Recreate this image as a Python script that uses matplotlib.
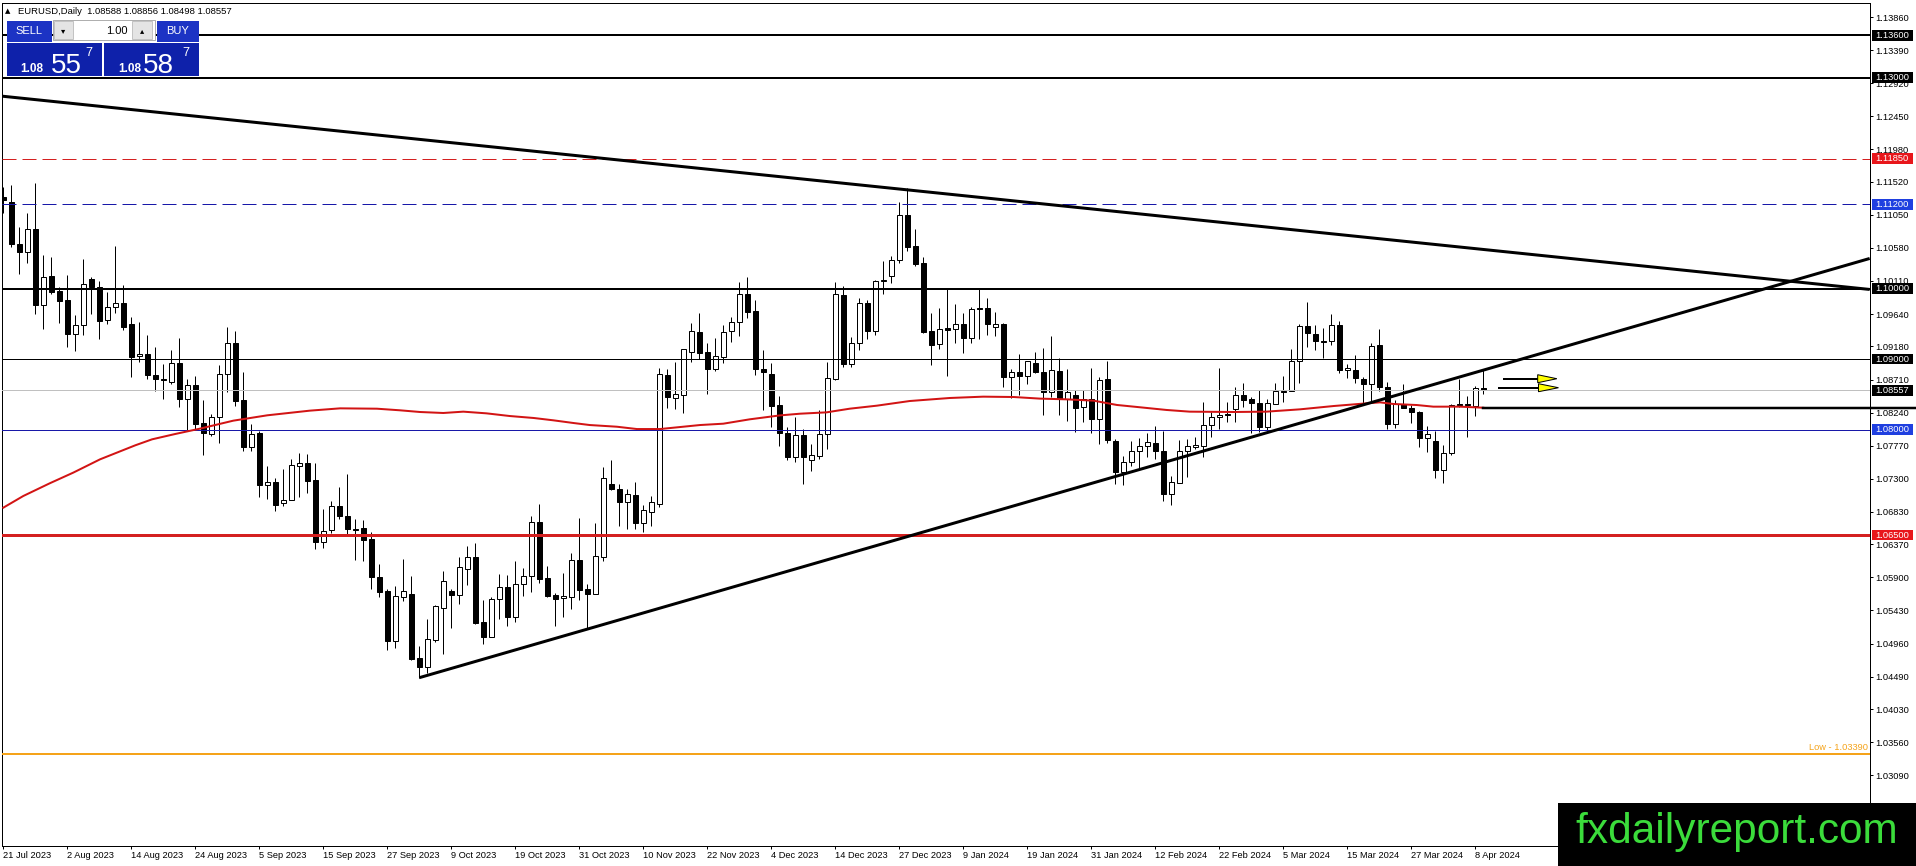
import matplotlib
matplotlib.use("Agg")
import matplotlib.pyplot as plt
import matplotlib.transforms as mtransforms
from matplotlib.patches import Rectangle, Polygon
import numpy as np

# ---------------- DATA ----------------
opens = [1.11299, 1.11237, 1.10636, 1.10517, 1.10844, 1.09765, 1.10177, 1.09968, 1.09840, 1.09362,
         1.09480, 1.10134, 1.10020, 1.09552, 1.09736, 1.09793, 1.09495, 1.09040, 1.09073, 1.08780,
         1.08713, 1.08671, 1.08945, 1.08439, 1.08628, 1.08088, 1.07932, 1.08174, 1.08784, 1.09225,
         1.08420, 1.07747, 1.07946, 1.07208, 1.07250, 1.06952, 1.07004, 1.07478, 1.07520, 1.07283,
         1.06407, 1.06568, 1.06914, 1.06772, 1.06592, 1.06601, 1.06445, 1.05910, 1.05711, 1.05001,
         1.05626, 1.05664, 1.04755, 1.04631, 1.05010, 1.05470, 1.05711, 1.05645, 1.06024, 1.06189,
         1.05266, 1.05058, 1.05588, 1.05763, 1.05332, 1.05801, 1.05919, 1.06682, 1.05891, 1.05649,
         1.05602, 1.05616, 1.06142, 1.05735, 1.05659, 1.06194, 1.07226, 1.07150, 1.06975, 1.07070,
         1.06667, 1.06833, 1.06947, 1.08774, 1.08443, 1.08495, 1.09096, 1.09385, 1.09101, 1.08855,
         1.09035, 1.09395, 1.09523, 1.09925, 1.09684, 1.08860, 1.08789, 1.08344, 1.07951, 1.07614,
         1.07922, 1.07562, 1.07629, 1.07932, 1.08722, 1.09911, 1.08926, 1.09224, 1.09797, 1.09404,
         1.10105, 1.10181, 1.10410, 1.11047, 1.10607, 1.10362, 1.09395, 1.09211, 1.09443, 1.09424,
         1.09495, 1.09296, 1.09713, 1.09727, 1.09452, 1.09499, 1.08742, 1.08818, 1.08756, 1.08950,
         1.08818, 1.08529, 1.08832, 1.08439, 1.08486, 1.08316, 1.08439, 1.08155, 1.08713, 1.07833,
         1.07397, 1.07534, 1.07700, 1.07762, 1.07804, 1.07700, 1.07085, 1.07246, 1.07700, 1.07747,
         1.07771, 1.08059, 1.08173, 1.08216, 1.08287, 1.08486, 1.08438, 1.08377, 1.08031, 1.08358,
         1.08542, 1.08542, 1.08969, 1.09466, 1.09357, 1.09257, 1.09253, 1.09485, 1.08845, 1.08850,
         1.08722, 1.08642, 1.09196, 1.08599, 1.08074, 1.08358, 1.08306, 1.08254, 1.07875, 1.07832,
         1.07420, 1.07671, 1.08353, 1.08353, 1.08339, 1.08588]
highs = [1.11450, 1.11474, 1.10873, 1.11071, 1.11498, 1.10475, 1.10456, 1.10020, 1.10191, 1.09623,
         1.10418, 1.10172, 1.10106, 1.09949, 1.10603, 1.10049, 1.09594, 1.09523, 1.09343, 1.09173,
         1.08926, 1.09125, 1.09296, 1.08713, 1.08761, 1.08420, 1.08216, 1.08917, 1.09452, 1.09395,
         1.08818, 1.08074, 1.07984, 1.07482, 1.07307, 1.07440, 1.07587, 1.07672, 1.07653, 1.07520,
         1.06871, 1.06985, 1.07188, 1.07373, 1.06724, 1.06715, 1.06540, 1.06090, 1.05735, 1.05777,
         1.06166, 1.05924, 1.04925, 1.05309, 1.05512, 1.05990, 1.05739, 1.06189, 1.06346, 1.06388,
         1.05574, 1.05621, 1.05943, 1.05934, 1.06132, 1.06033, 1.06772, 1.06942, 1.06057, 1.05683,
         1.05957, 1.06246, 1.06743, 1.05801, 1.06672, 1.07468, 1.07567, 1.07221, 1.07160, 1.07259,
         1.06928, 1.07056, 1.08879, 1.08860, 1.08954, 1.09148, 1.09518, 1.09660, 1.09229, 1.09300,
         1.09485, 1.09603, 1.10091, 1.10171, 1.09835, 1.09130, 1.08940, 1.08476, 1.08036, 1.08173,
         1.08003, 1.07794, 1.08273, 1.08954, 1.10091, 1.10039, 1.09314, 1.09868, 1.09845, 1.10124,
         1.10400, 1.10460, 1.11230, 1.11427, 1.10849, 1.10447, 1.09651, 1.09727, 1.09992, 1.09779,
         1.09660, 1.09746, 1.09992, 1.09873, 1.09665, 1.09518, 1.08860, 1.09078, 1.08979, 1.09102,
         1.09159, 1.09329, 1.09012, 1.08860, 1.08567, 1.08567, 1.08870, 1.08751, 1.08969, 1.07861,
         1.07624, 1.07833, 1.07880, 1.07946, 1.08046, 1.07979, 1.07340, 1.07847, 1.07871, 1.07894,
         1.08396, 1.08244, 1.08874, 1.08386, 1.08609, 1.08656, 1.08467, 1.08557, 1.08429, 1.08656,
         1.08760, 1.09139, 1.09499, 1.09811, 1.09485, 1.09437, 1.09641, 1.09542, 1.08926, 1.09059,
         1.08751, 1.09229, 1.09423, 1.08670, 1.08424, 1.08642, 1.08353, 1.08263, 1.08045, 1.07979,
         1.07775, 1.08363, 1.08718, 1.08471, 1.08618, 1.08856]
lows = [1.11081, 1.10589, 1.10205, 1.10371, 1.09641, 1.09433, 1.09926, 1.09518, 1.09177, 1.09121,
        1.09348, 1.09641, 1.09291, 1.09504, 1.09660, 1.09414, 1.08742, 1.08964, 1.08713, 1.08552,
        1.08439, 1.08652, 1.08325, 1.07994, 1.07994, 1.07643, 1.07913, 1.07814, 1.08538, 1.08339,
        1.07700, 1.07700, 1.07047, 1.07018, 1.06848, 1.06914, 1.07004, 1.07047, 1.07103, 1.06308,
        1.06322, 1.06535, 1.06734, 1.06502, 1.06147, 1.06137, 1.05739, 1.05616, 1.04868, 1.04897,
        1.05569, 1.04726, 1.04475, 1.04537, 1.04977, 1.04816, 1.05185, 1.05526, 1.05792, 1.05242,
        1.04949, 1.05058, 1.05313, 1.05214, 1.05271, 1.05635, 1.05697, 1.05820, 1.05626, 1.05209,
        1.05342, 1.05455, 1.05574, 1.05176, 1.05659, 1.06137, 1.07141, 1.06634, 1.06582, 1.06582,
        1.06549, 1.06634, 1.06904, 1.08310, 1.08296, 1.08239, 1.08964, 1.08997, 1.08509, 1.08827,
        1.08940, 1.09248, 1.09333, 1.09589, 1.08779, 1.08282, 1.08031, 1.07771, 1.07567, 1.07543,
        1.07231, 1.07406, 1.07581, 1.07728, 1.08703, 1.08883, 1.08893, 1.09130, 1.09286, 1.09343,
        1.09930, 1.10086, 1.10370, 1.10540, 1.10323, 1.09367, 1.08922, 1.09149, 1.08766, 1.09225,
        1.09087, 1.09225, 1.09286, 1.09348, 1.09334, 1.08609, 1.08448, 1.08486, 1.08652, 1.08799,
        1.08212, 1.08462, 1.08212, 1.08126, 1.07961, 1.08112, 1.07946, 1.07790, 1.07804, 1.07222,
        1.07212, 1.07482, 1.07444, 1.07610, 1.07582, 1.06990, 1.06933, 1.07236, 1.07321, 1.07724,
        1.07610, 1.07889, 1.08012, 1.08112, 1.08112, 1.08325, 1.07955, 1.07960, 1.07988, 1.08358,
        1.08391, 1.08542, 1.08666, 1.09177, 1.09130, 1.09021, 1.09201, 1.08798, 1.08727, 1.08656,
        1.08372, 1.08381, 1.08552, 1.08003, 1.08017, 1.08301, 1.08097, 1.07747, 1.07676, 1.07307,
        1.07236, 1.07638, 1.08315, 1.07898, 1.08192, 1.08498]
closes = [1.11261, 1.10636, 1.10517, 1.10844, 1.09765, 1.10162, 1.09959, 1.09831, 1.09362, 1.09480,
          1.10063, 1.10020, 1.09547, 1.09736, 1.09793, 1.09452, 1.09035, 1.09073, 1.08780, 1.08713,
          1.08699, 1.08945, 1.08439, 1.08628, 1.08079, 1.07946, 1.08174, 1.08784, 1.09225, 1.08410,
          1.07747, 1.07932, 1.07208, 1.07250, 1.06933, 1.06995, 1.07492, 1.07520, 1.07274, 1.06407,
          1.06559, 1.06914, 1.06776, 1.06592, 1.06578, 1.06435, 1.05910, 1.05697, 1.05001, 1.05635,
          1.05702, 1.04740, 1.04631, 1.05020, 1.05493, 1.05848, 1.05654, 1.06047, 1.06189, 1.05256,
          1.05058, 1.05593, 1.05763, 1.05342, 1.05801, 1.05919, 1.06682, 1.05881, 1.05640, 1.05597,
          1.05635, 1.06142, 1.05725, 1.05659, 1.06203, 1.07307, 1.07150, 1.06975, 1.07079, 1.06667,
          1.06857, 1.06966, 1.08784, 1.08457, 1.08500, 1.09139, 1.09399, 1.09092, 1.08864, 1.09040,
          1.09381, 1.09527, 1.09925, 1.09674, 1.08864, 1.08812, 1.08339, 1.07946, 1.07614, 1.07922,
          1.07614, 1.07633, 1.07936, 1.08732, 1.09920, 1.08935, 1.09224, 1.09792, 1.09404, 1.10105,
          1.10120, 1.10410, 1.11047, 1.10597, 1.10352, 1.09386, 1.09206, 1.09424, 1.09409, 1.09495,
          1.09296, 1.09713, 1.09708, 1.09495, 1.09495, 1.08742, 1.08813, 1.08756, 1.08969, 1.08813,
          1.08529, 1.08841, 1.08439, 1.08529, 1.08311, 1.08439, 1.08155, 1.08704, 1.07856, 1.07397,
          1.07534, 1.07700, 1.07762, 1.07828, 1.07700, 1.07085, 1.07260, 1.07700, 1.07762, 1.07781,
          1.08060, 1.08178, 1.08202, 1.08206, 1.08486, 1.08424, 1.08372, 1.08031, 1.08381, 1.08542,
          1.08533, 1.08969, 1.09466, 1.09366, 1.09253, 1.09250, 1.09480, 1.08845, 1.08869, 1.08727,
          1.08642, 1.09191, 1.08599, 1.08074, 1.08358, 1.08301, 1.08254, 1.07875, 1.07932, 1.07420,
          1.07671, 1.08348, 1.08348, 1.08348, 1.08590, 1.08557]

# moving average (bar index, price)
ma_idx = [0, 2.5, 5.8, 8.75, 12.1, 16.5, 18.6, 21.5, 24.6, 28.75, 33, 38.3, 42.1, 46.7, 49.6, 52.1,
          55, 57.5, 60.4, 63.3, 66.3, 68.75, 71.25, 73.3, 76.7, 79.2, 82.1, 87.1, 90, 93.3, 97.1,
          99.6, 102.9, 105.8, 109.2, 113.3, 118.3, 122.5, 126.3, 129.6, 132.9, 136.3, 139.2, 142.1,
          145.4, 148.3, 153.8, 157.9, 162.1, 166.3, 170.4, 172.1, 173.75, 176.7, 178.75, 182.1, 185]
ma_val = [1.06890, 1.07056, 1.07236, 1.07388, 1.07577, 1.07776, 1.07861, 1.07937, 1.08013, 1.08126,
          1.08202, 1.08268, 1.08301, 1.08296, 1.08273, 1.08249, 1.08235, 1.08254, 1.08230, 1.08192,
          1.08164, 1.08131, 1.08093, 1.08064, 1.08040, 1.08007, 1.08007, 1.08064, 1.08083, 1.08145,
          1.08201, 1.08225, 1.08244, 1.08296, 1.08339, 1.08405, 1.08448, 1.08467, 1.08462, 1.08439,
          1.08429, 1.08410, 1.08349, 1.08316, 1.08278, 1.08254, 1.08249, 1.08254, 1.08287, 1.08334,
          1.08372, 1.08386, 1.08363, 1.08348, 1.08325, 1.08325, 1.08310]

date_labels = ['21 Jul 2023', '2 Aug 2023', '14 Aug 2023', '24 Aug 2023', '5 Sep 2023', '15 Sep 2023',
               '27 Sep 2023', '9 Oct 2023', '19 Oct 2023', '31 Oct 2023', '10 Nov 2023', '22 Nov 2023',
               '4 Dec 2023', '14 Dec 2023', '27 Dec 2023', '9 Jan 2024', '19 Jan 2024', '31 Jan 2024',
               '12 Feb 2024', '22 Feb 2024', '5 Mar 2024', '15 Mar 2024', '27 Mar 2024', '8 Apr 2024']
date_label_step = 8

price_ticks = [1.13860, 1.13390, 1.12920, 1.12450, 1.11980, 1.11520, 1.11050, 1.10580, 1.10110,
               1.09640, 1.09180, 1.08710, 1.08240, 1.07770, 1.07300, 1.06830, 1.06370, 1.05900,
               1.05430, 1.04960, 1.04490, 1.04030, 1.03560, 1.03090, 1.02620]

# horizontal levels: (price, colour, width px, style, label box colour)
levels = [
    (1.13600, 'black', 2, 'solid', 'black'),
    (1.13000, 'black', 2, 'solid', 'black'),
    (1.11850, '#d42020', 1, 'dashed', '#e8161b'),
    (1.11200, '#1818a8', 1, 'dashed', '#1f3fe0'),
    (1.10000, 'black', 2, 'solid', 'black'),
    (1.09000, 'black', 1, 'solid', 'black'),
    (1.08557, '#c0c0c0', 1, 'solid', 'black'),
    (1.08000, '#1818a8', 1, 'solid', '#1f3fe0'),
    (1.06500, '#d42020', 3, 'solid', '#e8161b'),
]
low_level = 1.03390

# trend lines (bar index, price)
down_trend = [(-0.2, 1.12736), (233.3, 1.09990)]
up_trend = [(52, 1.04475), (233.3, 1.10430)]
support_level = 1.08310
support_start = 185
arrows = [(187.6, 192.1, 194.2, 1.08722), (187.0, 192.2, 194.4, 1.08594)]

title_text = 'EURUSD,Daily  1.08588 1.08856 1.08498 1.08557'

# ---------------- FIGURE ----------------
W, H, DPI = 1916, 866, 100
PX = 72.0 / DPI  # points per pixel
FONT = ['Liberation Sans', 'DejaVu Sans']
plt.rcParams['font.family'] = FONT

fig = plt.figure(figsize=(W / DPI, H / DPI), dpi=DPI, facecolor='white')
ax_l, ax_r, ax_t, ax_b = 2, 1870, 3, 846
ax = fig.add_axes([ax_l / W, 1 - ax_b / H, (ax_r - ax_l) / W, (ax_b - ax_t) / H])
ax.set_facecolor('white')
x0, x1 = -0.1625, 233.34
y0, y1 = 1.02084, 1.14059
ax.set_xlim(x0, x1)
ax.set_ylim(y0, y1)
dpp = (y1 - y0) / (ax_b - ax_t)   # price per pixel
ipp = (x1 - x0) / (ax_r - ax_l)   # bar index per pixel

o = np.array(opens); h = np.array(highs); l = np.array(lows); c = np.array(closes)
idx = np.arange(len(o))
bull = c >= o

# levels
for p, col, wpx, ls, _ in levels:
    kw = dict(color=col, lw=wpx * PX, zorder=5)
    if ls == 'dashed':
        kw['dashes'] = (14, 6)
    ax.axhline(p, **kw)
ax.axhline(low_level, color='#f5a31a', lw=2 * PX, zorder=5)
ax.annotate('Low - %.5f' % low_level, xy=(1, low_level), xycoords=('axes fraction', 'data'),
            xytext=(-1.5, 1.2), textcoords='offset points', ha='right', va='bottom',
            fontsize=6.7, color='#f5a31a', zorder=6)

# candles
ax.vlines(idx, l, h, color='black', lw=1 * PX, zorder=3)
bb = np.minimum(o, c)
bh = np.maximum(np.abs(c - o), 0.9 * dpp)
ax.bar(idx[bull], bh[bull], bottom=bb[bull], width=0.62, facecolor='white',
       edgecolor='black', linewidth=1 * PX, zorder=4)
ax.bar(idx[~bull], bh[~bull], bottom=bb[~bull], width=0.62, facecolor='black',
       edgecolor='black', linewidth=1 * PX, zorder=4)

# moving average
ax.plot(ma_idx, ma_val, color='#d21414', lw=2 * PX, zorder=6, solid_joinstyle='round')

# trend lines
for line in (down_trend, up_trend):
    xs, ys = zip(*line)
    ax.plot(xs, ys, color='black', lw=3 * PX, zorder=7, solid_capstyle='butt')

# support line extending to figure edge
ax.plot([support_start, x1 + (W - ax_r) * ipp], [support_level, support_level],
        color='black', lw=2.5 * PX, zorder=7, clip_on=False)

# arrows
for xa, xb, xt, p in arrows:
    ax.plot([xa, xb], [p, p], color='black', lw=2 * PX, zorder=8)
    tri = Polygon([(xb - 0.3, p + 4 * dpp), (xb - 0.3, p - 4 * dpp), (xt, p)], closed=True,
                  facecolor='#ffff00', edgecolor='black', lw=1 * PX, zorder=9)
    ax.add_patch(tri)

# axes styling
for s in ax.spines.values():
    s.set_linewidth(1 * PX)
    s.set_color('black')
ax.yaxis.tick_right()
ax.set_yticks(price_ticks)
ax.set_yticklabels(['%.5f' % t for t in price_ticks])
ax.tick_params(axis='y', which='both', direction='out', length=3 * PX, width=1 * PX,
               pad=2 * PX, labelsize=6.7, colors='black', left=False, right=True)
ax.set_xticks(np.arange(len(date_labels)) * date_label_step)
ax.set_xticklabels(date_labels)
ax.tick_params(axis='x', direction='out', length=3 * PX, width=1 * PX, pad=1.5 * PX,
               labelsize=6.7, colors='black')
for lbl in ax.get_xticklabels():
    lbl.set_horizontalalignment('left')
for lbl in ax.get_yticklabels():
    lbl.set_horizontalalignment('left')

# price boxes on the scale
blend = mtransforms.blended_transform_factory(ax.transAxes, ax.transData)
box_w = 41 / (ax_r - ax_l)
for p, _, _, _, bcol in levels:
    ax.add_patch(Rectangle((1.0011, p - 5.3 * dpp), box_w, 10.6 * dpp, transform=blend,
                           facecolor=bcol, edgecolor='none', clip_on=False, zorder=20))
    ax.text(1.0011 + 3 / (ax_r - ax_l), p, '%.5f' % p, transform=blend, ha='left', va='center',
            fontsize=6.7, color='white', clip_on=False, zorder=21)

# ---------------- FIGURE-LEVEL WIDGETS ----------------
def frect(xa, ya, xb, yb, **kw):
    fig.add_artist(Rectangle((xa / W, 1 - yb / H), (xb - xa) / W, (yb - ya) / H,
                             transform=fig.transFigure, **kw))

def ftext(x, y, s, **kw):
    fig.text(x / W, 1 - y / H, s, **kw)

# title
ftext(5, 11, '\u25B2', fontsize=5, color='black', va='center', family=['DejaVu Sans'])
ftext(18, 11, title_text, fontsize=6.8, color='black', va='center')

# trade panel
blue_top = '#1c33c4'
blue_low = '#0e21aa'
frect(6.7, 20.7, 51.7, 41.7, facecolor=blue_top, edgecolor='none', zorder=30)
frect(157, 20.7, 199.3, 41.7, facecolor=blue_top, edgecolor='none', zorder=30)
frect(6.7, 42.7, 101.7, 76, facecolor=blue_low, edgecolor='none', zorder=30)
frect(104.3, 42.7, 199.3, 76, facecolor=blue_low, edgecolor='none', zorder=30)
frect(53, 20, 155, 40, facecolor='white', edgecolor='#a0a0a0', lw=0.6, zorder=30)
frect(54, 21, 73, 39, facecolor='#e4e4e4', edgecolor='#b0b0b0', lw=0.5, zorder=31)
frect(132, 21, 152, 39, facecolor='#e4e4e4', edgecolor='#b0b0b0', lw=0.5, zorder=31)
ftext(63.5, 30.5, '\u25BE', fontsize=6, ha='center', va='center', color='black', zorder=32, family=['DejaVu Sans'])
ftext(142, 30.5, '\u25B4', fontsize=6, ha='center', va='center', color='black', zorder=32, family=['DejaVu Sans'])
ftext(128, 31, '1.00', fontsize=8, ha='right', va='center', color='black', zorder=32)
ftext(29, 31.5, 'SELL', fontsize=8, ha='center', va='center', color='white', zorder=32)
ftext(178, 31.5, 'BUY', fontsize=8, ha='center', va='center', color='white', zorder=32)
# sell price
ftext(20, 72, '1.08', fontsize=8.5, weight='bold', color='white', va='baseline', zorder=32)
ftext(51, 73, '55', fontsize=20, color='white', va='baseline', zorder=32)
ftext(85, 56, '7', fontsize=9, color='white', va='baseline', zorder=32)
# buy price
ftext(118, 72, '1.08', fontsize=8.5, weight='bold', color='white', va='baseline', zorder=32)
ftext(143, 73, '58', fontsize=20, color='white', va='baseline', zorder=32)
ftext(182, 56, '7', fontsize=9, color='white', va='baseline', zorder=32)

# watermark
frect(1558, 803, W + 1, H + 1, facecolor='black', edgecolor='none', zorder=40)
ftext(1737, 843, 'fxdailyreport.com', fontsize=30.5, color='#3bdc3b', ha='center',
      va='baseline', zorder=41)

fig.savefig('out.png', dpi=DPI, facecolor='white')
